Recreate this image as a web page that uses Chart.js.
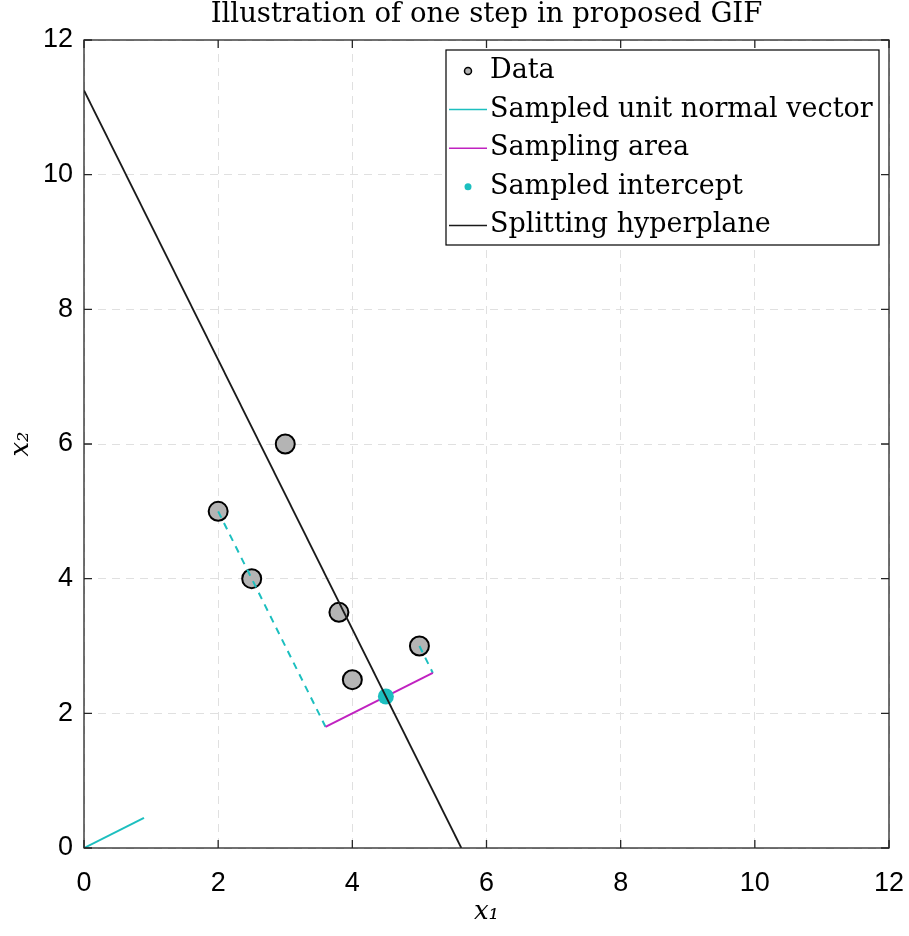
<!DOCTYPE html>
<html>
<head>
<meta charset="utf-8">
<script src="https://cdn.jsdelivr.net/npm/chart.js"></script>
<style>
  html, body { margin: 0; padding: 0; background: #fff; }
  #wrap { width: 909px; height: 936px; }
</style>
</head>
<body>
<div id="wrap"><canvas id="gifChart" width="909" height="936"></canvas></div>
<script>
// values
const dataX = [2, 2.5, 3, 3.8, 4, 5];
const dataY = [5, 4, 6, 3.5, 2.5, 3];
const normalX = [0, 0.894];
const normalY = [0, 0.447];
const areaX = [3.6, 5.2];
const areaY = [1.8, 2.6];
const interceptX = [4.5];
const interceptY = [2.25];
const planeX = [0, 5.625];
const planeY = [11.25, 0];
const projLowX = [2, 3.6];
const projLowY = [5, 1.8];
const projHighX = [5, 5.2];
const projHighY = [3, 2.6];
const tickValues = [0, 2, 4, 6, 8, 10, 12];
const chartTitle = 'Illustration of one step in proposed GIF';

const CYAN = '#1cbfbf';
const MAGENTA = '#c022c0';
const SERIF = '"DejaVu Serif", "Liberation Serif", serif';
const SANS = '"Liberation Sans", Arial, sans-serif';

function pts(xs, ys) {
    return xs.map((x, i) => ({ x: x, y: ys[i] }));
}

// frame with inward ticks on all four sides, title centred over the plot
const frameTicks = {
    id: 'frameTicks',
    afterDatasetsDraw(chart) {
        const ctx = chart.ctx;
        const a = chart.chartArea;
        const xs = chart.scales.x, ys = chart.scales.y;
        const len = 8;
        ctx.save();
        ctx.strokeStyle = '#262626';
        ctx.lineWidth = 1.3;
        ctx.strokeRect(a.left, a.top, a.right - a.left, a.bottom - a.top);
        ctx.beginPath();
        tickValues.forEach(v => {
            const px = xs.getPixelForValue(v);
            ctx.moveTo(px, a.bottom); ctx.lineTo(px, a.bottom - len);
            ctx.moveTo(px, a.top); ctx.lineTo(px, a.top + len);
            const py = ys.getPixelForValue(v);
            ctx.moveTo(a.left, py); ctx.lineTo(a.left + len, py);
            ctx.moveTo(a.right, py); ctx.lineTo(a.right - len, py);
        });
        ctx.stroke();
        ctx.fillStyle = '#000';
        ctx.font = '27.5px ' + SERIF;
        ctx.textAlign = 'center';
        ctx.textBaseline = 'middle';
        ctx.fillText(chartTitle, (a.left + a.right) / 2, 15);
        ctx.restore();
    }
};

// boxed legend in the upper right of the plot
const boxLegend = {
    id: 'boxLegend',
    afterDraw(chart) {
        const ctx = chart.ctx;
        const a = chart.chartArea;
        const items = chart.data.datasets.filter(d => d.inLegend);
        const right = a.right - 10, top = a.top + 10;
        const rowH = 38.6, width = 433;
        const left = right - width;
        ctx.save();
        ctx.fillStyle = '#fff';
        ctx.fillRect(left, top, width, rowH * items.length + 2);
        ctx.strokeStyle = '#000';
        ctx.lineWidth = 1.2;
        ctx.strokeRect(left, top, width, rowH * items.length + 2);
        ctx.font = '27px ' + SERIF;
        ctx.textBaseline = 'middle';
        items.forEach((d, i) => {
            const cy = top + 21 + i * rowH;
            const mx0 = left + 3, mx1 = left + 41;
            if (d.showLine) {
                ctx.strokeStyle = d.borderColor;
                ctx.lineWidth = 1.5;
                ctx.beginPath();
                ctx.moveTo(mx0, cy); ctx.lineTo(mx1, cy);
                ctx.stroke();
            } else {
                ctx.beginPath();
                ctx.arc((mx0 + mx1) / 2, cy, 3.5, 0, Math.PI * 2);
                ctx.fillStyle = d.backgroundColor;
                ctx.fill();
                if (d.borderWidth) {
                    ctx.strokeStyle = d.borderColor;
                    ctx.lineWidth = 1.5;
                    ctx.stroke();
                }
            }
            ctx.fillStyle = '#000';
            ctx.fillText(d.label, mx1 + 3, cy);
        });
        ctx.restore();
    }
};

const ctx = document.getElementById('gifChart').getContext('2d');
new Chart(ctx, {
    type: 'scatter',
    data: {
        datasets: [
            { label: 'Data', inLegend: true, data: pts(dataX, dataY), showLine: false,
              pointRadius: 9.5, pointBackgroundColor: '#b4b4b4', backgroundColor: '#b4b4b4',
              borderColor: '#000', borderWidth: 2, order: 6 },
            { label: 'proj low', data: pts(projLowX, projLowY), showLine: true, pointRadius: 0,
              borderColor: CYAN, borderWidth: 2, borderDash: [7, 6], order: 5 },
            { label: 'proj high', data: pts(projHighX, projHighY), showLine: true, pointRadius: 0,
              borderColor: CYAN, borderWidth: 2, borderDash: [7, 6], order: 5 },
            { label: 'Sampled unit normal vector', inLegend: true, data: pts(normalX, normalY),
              showLine: true, pointRadius: 0, borderColor: CYAN, borderWidth: 2, order: 4 },
            { label: 'Sampling area', inLegend: true, data: pts(areaX, areaY),
              showLine: true, pointRadius: 0, borderColor: MAGENTA, borderWidth: 2, order: 3 },
            { label: 'Sampled intercept', inLegend: true, data: pts(interceptX, interceptY),
              showLine: false, pointRadius: 8, pointBackgroundColor: CYAN, backgroundColor: CYAN,
              borderColor: CYAN, borderWidth: 0, order: 2 },
            { label: 'Splitting hyperplane', inLegend: true, data: pts(planeX, planeY),
              showLine: true, pointRadius: 0, borderColor: '#1a1a1a', borderWidth: 1.8, order: 1 }
        ]
    },
    options: {
        responsive: false,
        animation: false,
        layout: { padding: { right: 20, left: 0, top: 40, bottom: 0 } },
        plugins: {
            legend: { display: false },
            tooltip: { enabled: false },
            title: { display: false }
        },
        scales: {
            x: {
                type: 'linear', min: 0, max: 12,
                afterBuildTicks: s => { s.ticks = tickValues.map(v => ({ value: v })); },
                afterFit: s => { s.height = 88; s.paddingLeft = 0; s.paddingRight = 0; },
                ticks: { color: '#000', padding: 19, font: { family: SANS, size: 27 } },
                grid: { color: '#e0e0e0', lineWidth: 1, drawTicks: false },
                border: { display: false, dash: [8, 6] },
                title: { display: true, text: 'x₁', color: '#000', padding: { top: 0, bottom: 8 },
                         font: { family: SERIF, size: 26, style: 'italic' } }
            },
            y: {
                type: 'linear', min: 0, max: 12,
                afterBuildTicks: s => { s.ticks = tickValues.map(v => ({ value: v })); },
                afterFit: s => { s.width = 84; s.paddingTop = 0; s.paddingBottom = 0; },
                ticks: { color: '#000', padding: 11, font: { family: SANS, size: 27 } },
                grid: { color: '#e0e0e0', lineWidth: 1, drawTicks: false },
                border: { display: false, dash: [8, 6] },
                title: { display: true, text: 'x₂', color: '#000', padding: { top: 6, bottom: 0 },
                         font: { family: SERIF, size: 26, style: 'italic' } }
            }
        }
    },
    plugins: [frameTicks, boxLegend]
});
</script>
</body>
</html>
